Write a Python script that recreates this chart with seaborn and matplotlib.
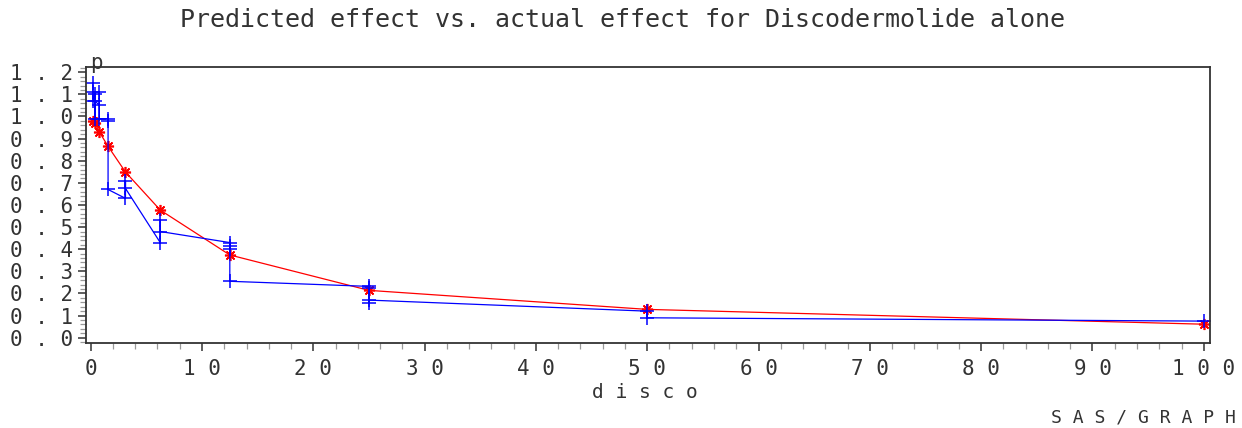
import matplotlib
matplotlib.use("Agg")
import matplotlib.pyplot as plt
import seaborn as sns
import pandas as pd
from matplotlib.ticker import MultipleLocator, FixedLocator, FixedFormatter

# ---- data ----
pred_x = [0.1953125, 0.390625, 0.78125, 1.5625, 3.125, 6.25, 12.5, 25, 50, 100]
pred_y = [0.981, 0.971, 0.930, 0.865, 0.749, 0.577, 0.374, 0.214, 0.128, 0.061]

actual_x = [0.1953125, 0.1953125, 0.1953125,
            0.390625, 0.390625, 0.390625,
            0.78125, 0.78125, 0.78125,
            1.5625, 1.5625, 1.5625,
            3.125, 3.125, 3.125,
            6.25, 6.25, 6.25,
            12.5, 12.5, 12.5, 12.5,
            25, 25, 25, 25,
            50, 50,
            100]
actual_y = [1.15, 1.11, 1.07,
            1.10, 0.99, 1.07,
            1.05, 1.11, 0.99,
            0.99, 0.98, 0.67,
            0.63, 0.71, 0.675,
            0.43, 0.53, 0.48,
            0.43, 0.415, 0.40, 0.255,
            0.232, 0.225, 0.155, 0.17,
            0.12, 0.09,
            0.075]

x_ticks = [0, 10, 20, 30, 40, 50, 60, 70, 80, 90, 100]
x_tick_labels = ["0", "1 0", "2 0", "3 0", "4 0", "5 0", "6 0", "7 0", "8 0", "9 0", "1 0 0"]
y_ticks = [0.0, 0.1, 0.2, 0.3, 0.4, 0.5, 0.6, 0.7, 0.8, 0.9, 1.0, 1.1, 1.2]
y_tick_labels = ["0 . 0", "0 . 1", "0 . 2", "0 . 3", "0 . 4", "0 . 5", "0 . 6",
                 "0 . 7", "0 . 8", "0 . 9", "1 . 0", "1 . 1", "1 . 2"]

title = "Predicted effect vs. actual effect for Discodermolide alone"

# ---- styling ----
sns.set_style("white")
plt.rcParams["font.family"] = ["DejaVu Sans Mono", "DejaVu Sans"]

W, H = 1242, 428
fig = plt.figure(figsize=(W / 100, H / 100), dpi=100)
ax = fig.add_axes([86 / W, 1 - 342.7 / H, (1210 - 86) / W, (342.7 - 67.3) / H])

pred_df = pd.DataFrame({"x": pred_x, "y": pred_y})
act_df = pd.DataFrame({"x": actual_x, "y": actual_y})

sns.lineplot(data=pred_df, x="x", y="y", ax=ax, sort=False, estimator=None,
             color="#ff0000", linewidth=0.9, marker=(8, 2, 0), markersize=8,
             markeredgecolor="#ff0000", markeredgewidth=1.2)
sns.lineplot(data=act_df, x="x", y="y", ax=ax, sort=False, estimator=None,
             color="#0000ff", linewidth=0.9, marker="+", markersize=10,
             markeredgecolor="#0000ff", markeredgewidth=1.1)

ax.set_xlim(-0.42, 100.56)
ax.set_ylim(-0.0226, 1.2224)

ax.xaxis.set_major_locator(FixedLocator(x_ticks))
ax.xaxis.set_major_formatter(FixedFormatter(x_tick_labels))
ax.xaxis.set_minor_locator(MultipleLocator(2))
ax.yaxis.set_major_locator(FixedLocator(y_ticks))
ax.yaxis.set_major_formatter(FixedFormatter(y_tick_labels))
ax.yaxis.set_minor_locator(MultipleLocator(0.02))

ax.tick_params(axis="both", which="major", direction="out", length=6, width=1.1,
               color="#333333", labelsize=15, labelcolor="#333333")
ax.tick_params(axis="both", which="minor", direction="out", length=4.5, width=0.9,
               color="#999999")
ax.tick_params(axis="x", which="both", bottom=True, top=False, pad=6)
ax.tick_params(axis="y", which="both", left=True, right=False, pad=3)

for s in ax.spines.values():
    s.set_visible(True)
    s.set_color("#333333")
    s.set_linewidth(1.3)

ax.set_xlabel("")
ax.set_ylabel("")

fig.text(622 / W, 1 - 20 / H, title, ha="center", va="center",
         fontsize=18, color="#333333")
fig.text(96 / W, 1 - 63 / H, "p", ha="center", va="center",
         fontsize=15, color="#333333")
fig.text(645 / W, 1 - 393 / H, "d i s c o", ha="center", va="center",
         fontsize=14, color="#333333")
fig.text(1236 / W, 1 - 418 / H, "S A S / G R A P H", ha="right", va="center",
         fontsize=13, color="#333333")

fig.savefig("out.png", dpi=100, facecolor="white")
